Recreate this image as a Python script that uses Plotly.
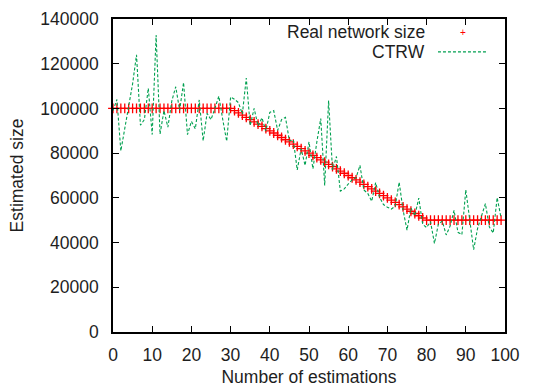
import plotly.graph_objects as go

estimations = list(range(100))

real_size = [
    100000, 100000, 100000, 100000, 100000, 100000, 100000, 100000, 100000, 100000,
    100000, 100000, 100000, 100000, 100000, 100000, 100000, 100000, 100000, 100000,
    100000, 100000, 100000, 100000, 100000, 100000, 100000, 100000, 100000, 100000,
    100000, 99000, 98000, 97000, 96000, 95000, 94000, 93000, 92000, 91000,
    90000, 89000, 88000, 87000, 86000, 85000, 84000, 83000, 82000, 81000,
    80000, 79000, 78000, 77000, 76000, 75000, 74000, 73000, 72000, 71000,
    70000, 69000, 68000, 67000, 66000, 65000, 64000, 63000, 62000, 61000,
    60000, 59000, 58000, 57000, 56000, 55000, 54000, 53000, 52000, 51000,
    50000, 50000, 50000, 50000, 50000, 50000, 50000, 50000, 50000, 50000,
    50000, 50000, 50000, 50000, 50000, 50000, 50000, 50000, 50000, 50000,
]

ctrw = [
    99000, 104000, 81000, 91000, 101000, 111000, 124000, 92500, 95000, 109000,
    88300, 132800, 88500, 99000, 91600, 103300, 109700, 99200, 111600, 88300,
    94200, 90900, 103800, 85500, 97800, 95000, 100000, 105500, 95000, 85300,
    105100, 104100, 102600, 97500, 113600, 92300, 100000, 92200, 95800, 89900,
    98200, 99000, 90200, 95000, 96000, 85500, 86000, 72500, 82000, 74500,
    85000, 73000, 85000, 95500, 65500, 103500, 72500, 78500, 63000, 64000,
    66200, 68000, 69000, 74500, 63500, 62000, 58500, 66800, 60300, 57000,
    55800, 55000, 56300, 67000, 54500, 45600, 55400, 52000, 59900, 48200,
    46700, 49400, 39600, 48200, 49600, 43400, 47400, 54400, 44600, 43500,
    63600, 50800, 36800, 46300, 51700, 57400, 47000, 44300, 60100, 51000,
]

x_ticks = list(range(0, 101, 10))
y_ticks = list(range(0, 140001, 20000))

RED = "#ff0000"
GREEN = "#00a050"
FONT = "Liberation Sans, Arial, Helvetica, sans-serif"
TXT = "#1e1e1e"
FS = 17.5

fig = go.Figure()
fig.add_trace(go.Scatter(
    x=estimations, y=real_size, mode="markers", name="Real network size",
    marker=dict(symbol="cross-thin", size=7, line=dict(color=RED, width=1.3)),
    cliponaxis=False, showlegend=False,
))
fig.add_trace(go.Scatter(
    x=estimations, y=ctrw, mode="lines", name="CTRW",
    line=dict(color=GREEN, width=1.1, dash="3px,2px"),
    showlegend=False,
))

axis_common = dict(
    showline=True, linecolor="black", linewidth=1.5, mirror="ticks",
    ticks="inside", ticklen=6, tickwidth=1.2, tickcolor="black",
    showgrid=False, zeroline=False, automargin=False,
    tickfont=dict(family=FONT, size=FS, color=TXT),
)

fig.update_layout(
    width=534, height=389,
    margin=dict(l=113, r=29, t=19, b=57),
    paper_bgcolor="white", plot_bgcolor="white",
    font=dict(family=FONT, size=FS, color=TXT),
    xaxis=dict(range=[0, 100], tickvals=x_ticks, ticklabelstandoff=6,
               title=dict(text="Number of estimations", font=dict(family=FONT, size=FS, color=TXT), standoff=7),
               **axis_common),
    yaxis=dict(range=[0, 140000], tickvals=y_ticks, tickformat="d", ticklabelstandoff=9,
               title=dict(text="Estimated size", font=dict(family=FONT, size=FS, color=TXT), standoff=12),
               **axis_common),
)

# gnuplot-style key (text left of sample)
fig.add_annotation(xref="paper", yref="paper", x=0.80, y=0.960, text="Real network size",
                   showarrow=False, xanchor="right", yanchor="middle",
                   font=dict(family=FONT, size=FS, color=TXT))
fig.add_annotation(xref="paper", yref="paper", x=0.80, y=0.895, text="CTRW",
                   showarrow=False, xanchor="right", yanchor="middle",
                   font=dict(family=FONT, size=FS, color=TXT))
fig.add_annotation(xref="paper", yref="paper", x=0.893, y=0.958, text="+",
                   showarrow=False, xanchor="center", yanchor="middle",
                   font=dict(family=FONT, size=10, color=RED))
fig.add_shape(type="line", xref="paper", yref="paper", x0=0.829, x1=0.954, y0=0.895, y1=0.895,
              line=dict(color=GREEN, width=1.1, dash="3px,2px"))

fig.write_html("out.html")
